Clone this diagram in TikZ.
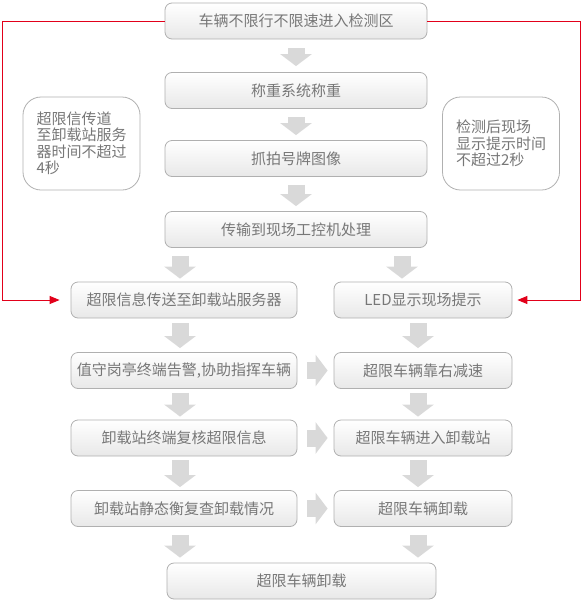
\documentclass[tikz,border=0pt]{standalone}
\usepackage{fontspec}
\newfontfamily\cjk{Noto Sans CJK SC}
\usetikzlibrary{arrows.meta,calc}

\definecolor{textgrau}{HTML}{777777}
\definecolor{randgrau}{HTML}{B0B0B0}
\definecolor{pfeilgrau}{HTML}{D9D9D9}
\definecolor{linienrot}{HTML}{E2001A}

\tikzset{
  kasten/.style={draw=randgrau, line width=0.8pt, rounded corners=7pt,
    top color=white, bottom color=black!9, minimum height=36pt, inner sep=0pt,
    text=textgrau, font=\cjk\fontsize{15}{17}\selectfont},
  notiz/.style={draw=randgrau, line width=0.8pt, rounded corners=18pt, fill=white,
    minimum width=117pt, minimum height=93pt, inner sep=0pt, align=left,
    text=textgrau, font=\cjk\fontsize{15}{16.5}\selectfont},
  blockpfeil/.style={draw=pfeilgrau, line width=17pt, line cap=butt,
    -{Triangle[width=31pt,length=12pt]}},
  rotpfeil/.style={draw=linienrot, line width=1pt,
    -{Triangle[width=8pt,length=10pt]}},
}

\begin{document}
\begin{tikzpicture}[x=1pt,y=-1pt]
\useasboundingbox (0,0) rectangle (583,603);

% mittlere Spalte oben:
\node[kasten, minimum width=262pt] (erfassen) at (296,21) {车辆不限行不限速进入检测区};
\node[kasten, minimum width=262pt] (wiegen) at (296,90.5) {称重系统称重};
\node[kasten, minimum width=262pt] (foto) at (296,158.5) {抓拍号牌图像};
\node[kasten, minimum width=262pt] (uebertragen) at (296,229.5) {传输到现场工控机处理};

% Hinweise links und rechts:
\node[notiz] (hinweislinks) at (81.5,143.5) {超限信传道\\至卸载站服务\\器时间不超过\\4秒};
\node[notiz] (hinweisrechts) at (501,143.5) {检测后现场\\显示提示时间\\不超过2秒};

% linke Spalte:
\node[kasten, minimum width=226pt] (server) at (184,300) {超限信息传送至卸载站服务器};
\node[kasten, minimum width=226pt] (alarm) at (184,370.5) {值守岗亭终端告警,协助指挥车辆};
\node[kasten, minimum width=226pt] (pruefen) at (184,438) {卸载站终端复核超限信息};
\node[kasten, minimum width=226pt] (kontrolle) at (184,508.5) {卸载站静态衡复查卸载情况};

% rechte Spalte:
\node[kasten, minimum width=178pt] (anzeige) at (423,300) {LED显示现场提示};
\node[kasten, minimum width=178pt] (abbremsen) at (423,370.5) {超限车辆靠右减速};
\node[kasten, minimum width=178pt] (einfahrt) at (423,438) {超限车辆进入卸载站};
\node[kasten, minimum width=178pt] (entladen) at (423,508.5) {超限车辆卸载};

% unten:
\node[kasten, minimum width=269pt] (ende) at (301.5,581) {超限车辆卸载};

% graue Pfeile oben:
\draw[blockpfeil, shorten <=9pt, shorten >=6pt] (erfassen) -- (wiegen);
\draw[blockpfeil, shorten <=8pt, shorten >=5pt] (wiegen) -- (foto);
\draw[blockpfeil, shorten <=8pt, shorten >=5pt] (foto) -- (uebertragen);

% Hilfspunkte fuer die Spalten:
\coordinate (sl) at ($(server.north)+(-4,0)$);
\coordinate (sr) at ($(anzeige.north)+(-21,0)$);
\coordinate (spl) at (180,0);
\coordinate (spr) at (418,0);

\draw[blockpfeil, shorten <=8pt, shorten >=3pt] (sl |- uebertragen.south) -- (sl);
\draw[blockpfeil, shorten <=8pt, shorten >=3pt] (sr |- uebertragen.south) -- (sr);

% graue Pfeile links:
\draw[blockpfeil, shorten <=5pt, shorten >=4pt] (spl |- server.south) -- (spl |- alarm.north);
\draw[blockpfeil, shorten <=4pt, shorten >=3pt] (spl |- alarm.south) -- (spl |- pruefen.north);
\draw[blockpfeil, shorten <=4pt, shorten >=3pt] (spl |- pruefen.south) -- (spl |- kontrolle.north);
\draw[blockpfeil, shorten <=8pt, shorten >=5pt] (spl |- kontrolle.south) -- (spl |- ende.north);

% graue Pfeile rechts:
\draw[blockpfeil, shorten <=5pt, shorten >=4pt] (spr |- anzeige.south) -- (spr |- abbremsen.north);
\draw[blockpfeil, shorten <=4pt, shorten >=3pt] (spr |- abbremsen.south) -- (spr |- einfahrt.north);
\draw[blockpfeil, shorten <=4pt, shorten >=3pt] (spr |- einfahrt.south) -- (spr |- entladen.north);
\draw[blockpfeil, shorten <=8pt, shorten >=5pt] (spr |- entladen.south) -- (spr |- ende.north);

% graue Pfeile quer:
\draw[blockpfeil, shorten <=10pt, shorten >=6pt] (alarm) -- (abbremsen);
\draw[blockpfeil, shorten <=10pt, shorten >=6pt] (pruefen) -- (einfahrt);
\draw[blockpfeil, shorten <=10pt, shorten >=6pt] (kontrolle) -- (entladen);

% rote Linien:
\coordinate (rotlinks) at (2,0);
\coordinate (rotrechts) at (580,0);
\draw[rotpfeil, shorten >=11pt] (erfassen.west) -- (erfassen.west -| rotlinks) |- (server.west);
\draw[rotpfeil, shorten >=5pt] (erfassen.east) -- (erfassen.east -| rotrechts) |- (anzeige.east);
\end{tikzpicture}
\end{document}
